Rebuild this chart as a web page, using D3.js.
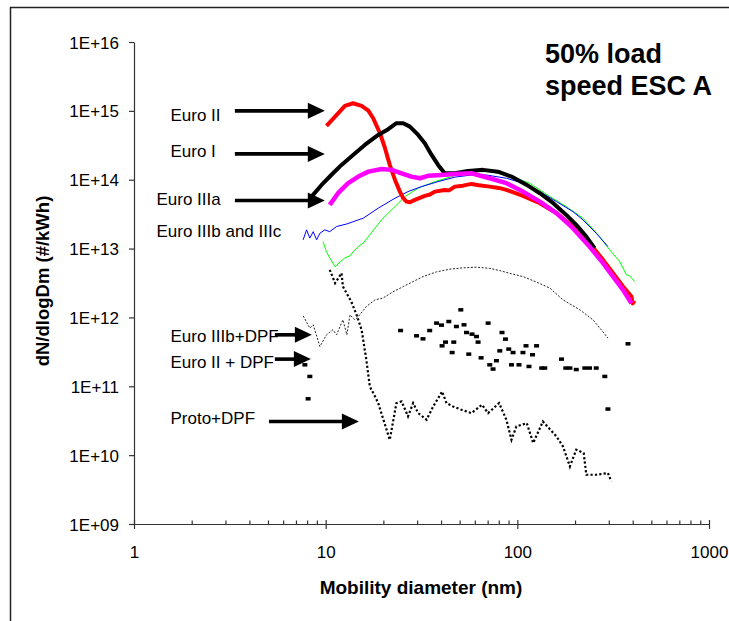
<!DOCTYPE html>
<html>
<head>
<meta charset="utf-8">
<script src="https://cdn.jsdelivr.net/npm/d3@7"></script>
<style>
  body { margin: 0; background: #fff; }
  svg { display: block; }
  text { font-family: Arial, "Liberation Sans", sans-serif; fill: #000; }
</style>
</head>
<body>
<svg id="chart" width="729" height="621"></svg>
<script>
// Particle size distributions, [mobility diameter nm, dN/dlogDm #/kWh]
const euroII = [[10.1,6.04e14],[11.2,8.24e14],[12.6,1.18e15],[13.9,1.29e15],[15.4,1.18e15],[16.7,1.01e15],[17.7,7.81e14],[19.2,4.73e14],[20.4,2.87e14],[21.6,1.64e14],[23.0,9.93e13],[24.4,6.72e13],[25.4,5.39e13],[26.4,4.81e13],[27.5,4.7e13],[29.2,5.09e13],[32.9,5.82e13],[35.0,6.1e13],[37.1,6.72e13],[41.8,7.11e13],[44.0,7.0e13],[47.2,7.94e13],[52.0,8.2e13],[57.6,8.69e13],[63.0,8.3e13],[71.8,7.94e13],[80.0,7.6e13],[87.7,7.11e13],[107,5.82e13],[131,4.56e13],[160,3.27e13],[195,2.09e13],[238,1.20e13],[280,6.86e12],[316,4.39e12],[356,2.81e12],[394,2.01e12],[400,1.6e12],[409,1.75e12]];
const euroI = [[8.44,5.68e13],[9.52,8.40e13],[10.7,1.17e14],[12.1,1.64e14],[13.9,2.29e14],[16.0,3.20e14],[18.8,4.47e14],[21.2,5.41e14],[23.4,6.61e14],[25.4,6.61e14],[27.5,5.90e14],[30.4,4.47e14],[32.9,3.39e14],[35.7,2.29e14],[38.6,1.64e14],[41.8,1.24e14],[47.2,1.24e14],[55.3,1.34e14],[66.3,1.39e14],[79.3,1.31e14],[93.2,1.11e14],[112,8.40e13],[131,6.37e13],[154,4.56e13],[180,3.08e13],[203,2.21e13],[229,1.49e13],[253,1.01e13]];
const euroIIIa = [[10.5,4.31e13],[11.6,6.37e13],[13.1,8.90e13],[14.8,1.11e14],[16.7,1.31e14],[19.6,1.43e14],[22.1,1.39e14],[24.9,1.24e14],[28.0,1.11e14],[31.0,1.05e14],[34.2,1.14e14],[40.2,1.17e14],[47.2,1.21e14],[57.6,1.24e14],[71.8,1.05e14],[87.7,8.90e13],[107,6.72e13],[131,4.81e13],[160,3.27e13],[195,1.98e13],[238,1.07e13],[280,6.14e12],[316,3.92e12],[356,2.52e12],[394,1.61e12]];
const euroIIIb = [[7.63,1.34e13],[7.95,1.87e13],[8.27,1.42e13],[8.61,1.76e13],[8.97,1.34e13],[9.33,1.67e13],[9.90,1.87e13],[10.5,1.76e13],[11.4,2.09e13],[12.9,2.28e13],[14.8,2.61e13],[15.7,2.76e13],[18.8,3.86e13],[23.0,5.39e13],[26.9,6.72e13],[31.6,7.94e13],[38.6,9.38e13],[47.2,1.09e14],[57.6,1.17e14],[69.0,1.17e14],[87.7,1.05e14],[107,8.90e13],[131,6.72e13],[160,4.81e13],[195,3.44e13],[220,2.61e13],[258,1.67e13],[297,1.07e13]];
const euroIIIc = [[9.70,1.26e13],[10.1,8.96e12],[10.5,7.33e12],[11.2,5.44e12],[11.9,6.41e12],[12.6,7.33e12],[13.4,7.83e12],[13.9,8.96e12],[14.8,1.07e13],[15.7,1.20e13],[16.7,1.49e13],[18.1,1.98e13],[19.9,2.76e13],[23.0,4.07e13],[25.9,5.68e13],[30.4,7.53e13],[37.1,9.38e13],[45.3,1.11e14],[54.3,1.31e14],[71.8,1.31e14],[91.3,1.14e14],[116,8.90e13],[148,5.68e13],[180,4.07e13],[220,2.76e13],[269,1.49e13],[303,9.58e12],[342,6.48e12],[371,4.15e12],[385,4.02e12],[409,3.32e12]];
const euroIIIbDPF = [[7.63,1.05e12],[8.27,6.99e11],[8.61,7.81e11],[9.33,3.78e11],[10.1,5.59e11],[10.9,6.61e11],[11.4,5.59e11],[12.3,9.23e11],[12.9,5.59e11],[13.4,1.09e12],[14.2,9.23e11],[14.8,1.03e12],[16.3,1.44e12],[18.1,1.80e12],[19.9,1.91e12],[22.4,2.35e12],[25.4,2.81e12],[28.6,3.32e12],[32.2,3.92e12],[37.9,4.59e12],[44.4,5.02e12],[51.9,5.25e12],[61.2,5.37e12],[71.8,5.16e12],[81.0,4.79e12],[93.2,4.30e12],[107,3.92e12],[125,3.29e12],[148,2.66e12],[173,1.80e12],[212,1.29e12],[248,9.23e11],[269,7.06e11],[297,5.01e11]];
const euroIIDPF = [[7.79,2.05e11],[8.27,1.39e11],[8.10,6.58e10],[24.6,6.45e11],[29.8,5.41e11],[32.2,4.89e11],[34.9,6.45e11],[37.9,8.27e11],[40.2,7.73e11],[43.9,8.72e11],[48.1,7.38e11],[50.7,1.29e12],[52.7,7.81e11],[54.3,6.04e11],[58.0,5.72e11],[61.2,5.28e11],[62.4,4.38e11],[40.5,3.87e11],[42.2,4.38e11],[46.6,4.38e11],[45.7,3.09e11],[55.8,2.93e11],[64.7,2.59e11],[70.4,8.27e11],[71.8,2.05e11],[74.7,1.78e11],[77.8,2.35e11],[81.0,3.27e11],[83.2,6.04e11],[86.7,4.84e11],[90.2,3.47e11],[95.0,3.09e11],[93.2,2.05e11],[102,2.05e11],[111,3.87e11],[107,3.09e11],[115,1.94e11],[120,2.87e11],[126,3.87e11],[134,1.84e11],[139,1.84e11],[170,2.48e11],[179,1.84e11],[188,1.84e11],[203,1.75e11],[225,1.84e11],[238,1.84e11],[258,1.84e11],[286,1.39e11],[297,4.67e10],[378,4.14e11]];
const protoDPF = [[10.5,4.91e12],[11.2,3.15e12],[12.1,4.39e12],[12.3,2.81e12],[13.6,1.70e12],[14.5,1.09e12],[15.4,6.61e11],[16.3,2.42e11],[17.0,9.93e10],[18.1,7.11e10],[18.8,5.70e10],[20.4,2.76e10],[21.6,1.67e10],[23.4,5.70e10],[24.9,6.02e10],[26.9,3.65e10],[28.6,5.70e10],[30.4,4.08e10],[33.6,3.27e10],[36.4,5.09e10],[40.5,8.40e10],[42.7,5.70e10],[46.2,5.09e10],[51.1,4.56e10],[57.6,4.08e10],[65.4,5.39e10],[70.4,4.08e10],[80.3,5.70e10],[87.7,3.27e10],[93.2,1.67e10],[98.9,2.61e10],[112,2.92e10],[121,1.50e10],[136,3.08e10],[160,1.87e10],[173,1.34e10],[188,6.86e9],[203,1.20e10],[222,1.07e10],[229,5.19e9],[258,5.19e9],[297,5.50e9],[309,4.15e9]];

// Axis ticks
const xMajorTicks = [1, 10, 100, 1000];
const yMajorTicks = [1e9, 1e10, 1e11, 1e12, 1e13, 1e14, 1e15, 1e16];
const yTickLabels = ["1E+09","1E+10","1E+11","1E+12","1E+13","1E+14","1E+15","1E+16"];

// Arrow annotations: label, label anchor [d, N], arrow tail d, arrow tip [d, N]
const annotations = [
  { text: "Euro II",           label: [1.55, 7.21e14], tail: 3.36, tip: [9.9, 1.0e15] },
  { text: "Euro I",            label: [1.55, 2.16e14], tail: 3.36, tip: [9.9, 2.37e14] },
  { text: "Euro IIIa",         label: [1.31, 4.31e13], tail: 3.36, tip: [9.9, 5.0e13] },
  { text: "Euro IIIb and IIIc", label: [1.31, 1.49e13] },
  { text: "Euro IIIb+DPF",     label: [1.55, 4.47e11], tail: 5.43, tip: [8.47, 5.59e11] },
  { text: "Euro II + DPF",     label: [1.55, 1.87e11], tail: 5.43, tip: [8.37, 2.48e11] },
  { text: "Proto+DPF",         label: [1.55, 2.86e10], tail: 5.06, tip: [14.9, 3.08e10] }
];

const svg = d3.select("#chart");
const x = d3.scaleLog().domain([1, 1000]).range([134, 709]);
const y = d3.scaleLog().domain([1e9, 1e16]).range([524, 42]);

// outer frame (top and left edges visible)
svg.append("path").attr("d", "M10.5,621V7.5H729")
  .attr("fill", "none").attr("stroke", "#222").attr("stroke-width", 1.5);

// x axis: major ticks cross the line, minor ticks sit inside
const xMinor = [];
[1, 10, 100].forEach(b => { for (let k = 2; k <= 9; k++) xMinor.push(b * k); });
const gxMinor = svg.append("g").attr("transform", "translate(0,524)")
  .call(d3.axisBottom(x).tickValues(xMinor).tickSize(-3.5).tickFormat(""));
gxMinor.select(".domain").remove();
const gx = svg.append("g").attr("transform", "translate(0,524)")
  .call(d3.axisBottom(x).tickValues(xMajorTicks).tickSize(5).tickSizeOuter(0).tickFormat(d3.format("d")));
gx.selectAll(".tick line").attr("y1", -4);
gx.selectAll(".tick text").attr("y", 34).attr("dy", 0)
  .style("font-size", "17px").style("font-family", "Arial, 'Liberation Sans', sans-serif");
svg.selectAll(".domain, .tick line").attr("stroke", "#333").attr("stroke-width", 1.2);

// y axis
const gy = svg.append("g").attr("transform", "translate(134,0)")
  .call(d3.axisLeft(y).tickValues(yMajorTicks).tickSize(5).tickSizeOuter(0)
    .tickFormat((d, i) => yTickLabels[i]));
gy.selectAll(".tick text").attr("x", -15).attr("dy", "0.36em")
  .style("font-size", "17px").style("font-family", "Arial, 'Liberation Sans', sans-serif");
gy.selectAll(".domain, .tick line").attr("stroke", "#333").attr("stroke-width", 1.2);

// axis titles
svg.append("text").attr("x", 421).attr("y", 594).attr("text-anchor", "middle")
  .style("font-size", "19px").style("font-weight", "bold").text("Mobility diameter (nm)");
svg.append("text").attr("transform", "translate(49,281) rotate(-90)").attr("text-anchor", "middle")
  .style("font-size", "18.5px").style("font-weight", "bold").text("dN/dlogDm (#/kWh)");

// chart title
svg.append("text").attr("x", 545).attr("y", 63)
  .style("font-size", "27px").style("font-weight", "bold").text("50% load");
svg.append("text").attr("x", 545).attr("y", 95)
  .style("font-size", "27px").style("font-weight", "bold").text("speed ESC A");

const line = d3.line().x(d => x(d[0])).y(d => y(d[1]));

// DPF-equipped engines
svg.append("path").datum(protoDPF).attr("d", line)
  .attr("fill", "none").attr("stroke", "#000").attr("stroke-width", 2.2)
  .attr("stroke-dasharray", "2.2,2.2");
svg.append("path").datum(euroIIIbDPF).attr("d", line)
  .attr("fill", "none").attr("stroke", "#222").attr("stroke-width", 1)
  .attr("stroke-dasharray", "2,1.6");
svg.append("g").selectAll("rect").data(euroIIDPF).join("rect")
  .attr("x", d => x(d[0]) - 2.5).attr("y", d => y(d[1]) - 1.75)
  .attr("width", 5).attr("height", 3.5).attr("fill", "#000");

// engines without aftertreatment
const series = [
  { data: euroIIIc, color: "#00ff00", width: 1 },
  { data: euroIIIb, color: "#0000ff", width: 1 },
  { data: euroII,   color: "#ff0000", width: 4 },
  { data: euroI,    color: "#000000", width: 4 },
  { data: euroIIIa, color: "#ff00ff", width: 4.5 }
];
series.forEach(s => {
  svg.append("path").datum(s.data).attr("d", line)
    .attr("fill", "none").attr("stroke", s.color).attr("stroke-width", s.width)
    .attr("stroke-linejoin", "round");
});

// labels and arrows
const ann = svg.append("g");
annotations.forEach(a => {
  ann.append("text").attr("x", x(a.label[0])).attr("y", y(a.label[1]))
    .style("font-size", "17px").text(a.text);
  if (a.tip) {
    const tx = x(a.tip[0]), ty = y(a.tip[1]), sx = x(a.tail);
    ann.append("line").attr("x1", sx).attr("y1", ty).attr("x2", tx - 14).attr("y2", ty)
      .attr("stroke", "#000").attr("stroke-width", 3.6);
    ann.append("path")
      .attr("d", `M${tx},${ty}L${tx - 17},${ty - 8}L${tx - 17},${ty + 8}Z`)
      .attr("fill", "#000");
  }
});
</script>
</body>
</html>
